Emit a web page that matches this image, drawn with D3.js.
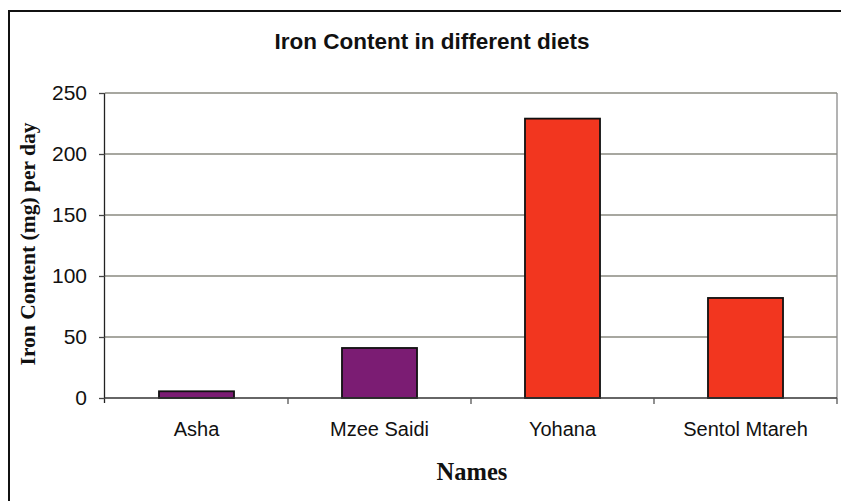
<!DOCTYPE html>
<html><head><meta charset="utf-8">
<script src="https://cdn.jsdelivr.net/npm/d3@7"></script>
<style>body{margin:0;background:#fff}svg{display:block}</style>
</head><body>
<script>
const categories = ["Asha", "Mzee Saidi", "Yohana", "Sentol Mtareh"];
const values = [5.5, 41, 229, 82];
const barColors = ["#7b1c73", "#7b1c73", "#f2361f", "#f2361f"];
const yTicks = [0, 50, 100, 150, 200, 250];
const title = "Iron Content in different diets";
const yLabel = "Iron Content (mg) per day";
const xLabel = "Names";

const W = 841, H = 501;
const plot = {left: 105, right: 837, top: 93, bottom: 398};
const svg = d3.select("body").append("svg").attr("width", W).attr("height", H);

// outer frame
svg.append("rect").attr("x", 9).attr("y", 11).attr("width", 845).attr("height", 520)
  .attr("fill", "none").attr("stroke", "#111").attr("stroke-width", 2);

const x = d3.scaleBand().domain(categories).range([plot.left, plot.right]).paddingInner(0.59).paddingOuter(0.295);
const xOuter = d3.scaleBand().domain(categories).range([plot.left, plot.right]);
const y = d3.scaleLinear().domain([0, 250]).range([plot.bottom, plot.top]);

// gridlines
svg.append("g").selectAll("line").data(yTicks.filter(d => d > 0)).join("line")
  .attr("x1", plot.left).attr("x2", plot.right)
  .attr("y1", d => y(d)).attr("y2", d => y(d))
  .attr("stroke", "#8a8a80").attr("stroke-width", 1.3);
// plot right border
svg.append("line").attr("x1", plot.right).attr("x2", plot.right).attr("y1", plot.top).attr("y2", plot.bottom)
  .attr("stroke", "#8a8a8a").attr("stroke-width", 1.3);

// bars
svg.append("g").selectAll("rect").data(values).join("rect")
  .attr("x", (d, i) => x(categories[i])).attr("width", x.bandwidth())
  .attr("y", d => y(d)).attr("height", d => y(0) - y(d))
  .attr("fill", (d, i) => barColors[i]).attr("stroke", "#111").attr("stroke-width", 1.8);

// y axis
const yAxis = svg.append("g").attr("transform", `translate(${plot.left},0)`)
  .call(d3.axisLeft(y).tickValues(yTicks).tickSize(6).tickPadding(12));
yAxis.select(".domain").attr("stroke", "#222").attr("stroke-width", 1.3).attr("d", `M-0.5,${plot.top}V${plot.bottom + 5}`);
yAxis.selectAll(".tick line").attr("stroke", "#444").attr("stroke-width", 1.3);
yAxis.selectAll("text").attr("font-family", "Liberation Sans, Arial, sans-serif").attr("font-size", 21).attr("fill", "#111");

// x axis
const xAxis = svg.append("g").attr("transform", `translate(0,${plot.bottom})`)
  .call(d3.axisBottom(xOuter).tickSize(0).tickPadding(24));
xAxis.select(".domain").attr("stroke", "#333").attr("stroke-width", 1.5).attr("d", `M${plot.left},0H${plot.right}`);
xAxis.selectAll("text").attr("font-family", "Liberation Sans, Arial, sans-serif").attr("font-size", 20).attr("fill", "#111");
// category separator ticks
svg.append("g").selectAll("line").data(categories.slice(1).concat(["__end"])).join("line")
  .attr("x1", (d, i) => xOuter(categories[i]) + xOuter.bandwidth())
  .attr("x2", (d, i) => xOuter(categories[i]) + xOuter.bandwidth())
  .attr("y1", plot.bottom).attr("y2", plot.bottom + 6)
  .attr("stroke", "#555").attr("stroke-width", 1.3);

// title
svg.append("text").attr("x", 432).attr("y", 49).attr("text-anchor", "middle")
  .attr("font-family", "Liberation Sans, Arial, sans-serif").attr("font-weight", "bold").attr("font-size", 22.5)
  .attr("fill", "#111").text(title);

// y label
svg.append("text").attr("transform", `translate(35,244) rotate(-90)`).attr("text-anchor", "middle")
  .attr("font-family", "Liberation Serif, Times New Roman, serif").attr("font-weight", "bold").attr("font-size", 21.5)
  .attr("fill", "#111").text(yLabel);

// x label
svg.append("text").attr("x", 472).attr("y", 480).attr("text-anchor", "middle")
  .attr("font-family", "Liberation Serif, Times New Roman, serif").attr("font-weight", "bold").attr("font-size", 24.5)
  .attr("fill", "#111").text(xLabel);
</script>
</body></html>
